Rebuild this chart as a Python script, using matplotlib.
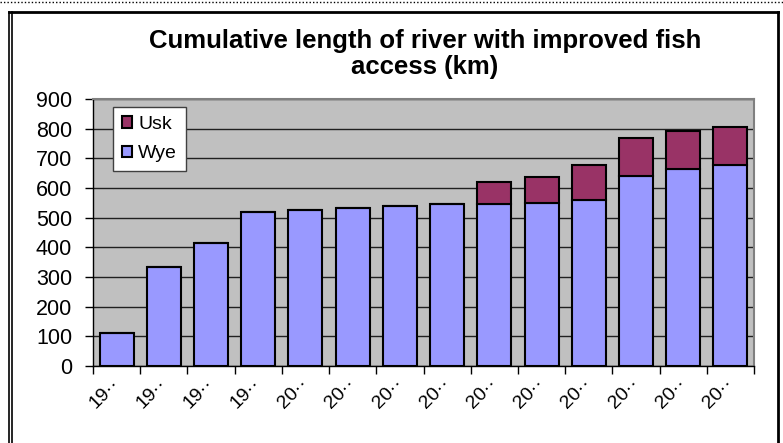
import matplotlib
matplotlib.use("Agg")
import matplotlib.pyplot as plt
from matplotlib.lines import Line2D
import numpy as np

plt.rcParams['font.family'] = ['Liberation Sans', 'DejaVu Sans']

labels = ["19··", "19··", "19··", "19··", "20··", "20··", "20··",
          "20··", "20··", "20··", "20··", "20··", "20··", "20··"]
wye = [111, 334, 416, 519, 525, 532, 539, 545, 546, 548, 559, 639, 664, 679]
usk = [0, 0, 0, 0, 0, 0, 0, 0, 74, 89, 119, 131, 128, 127]

W, H = 783, 443
fig = plt.figure(figsize=(W / 100, H / 100), dpi=100)
fig.patch.set_facecolor("white")

ax = fig.add_axes([93 / W, 1 - 366 / H, (754 - 93) / W, (366 - 99) / H])
ax.set_facecolor("#C0C0C0")

x = np.arange(len(labels))
ax.bar(x, wye, width=0.72, color="#9999FF", edgecolor="black", linewidth=1.5,
       label="Wye", zorder=3)
ax.bar(x, usk, width=0.72, bottom=wye, color="#993366", edgecolor="black",
       linewidth=1.5, label="Usk", zorder=3)

ax.set_xlim(-0.5, len(labels) - 0.5)
ax.set_ylim(0, 900)
ax.set_yticks(range(0, 901, 100))
ax.yaxis.grid(True, color="#202020", linewidth=1.0, zorder=0)
ax.set_axisbelow(True)
ax.tick_params(axis="y", direction="out", length=6, width=1, labelsize=15.5,
               pad=9, colors="black")

ax.set_xticks(x)
ax.set_xticklabels(labels, rotation=45, ha="right", va="center",
                   rotation_mode="anchor", fontsize=14)
ax.tick_params(axis="x", which="major", length=0, pad=11)
ax.set_xticks(np.arange(-0.5, len(labels), 1.0), minor=True)
ax.tick_params(axis="x", which="minor", direction="out", length=6, width=1)

for s in ["top", "right"]:
    ax.spines[s].set_color("#808080")
    ax.spines[s].set_linewidth(1.5)
for s in ["left", "bottom"]:
    ax.spines[s].set_color("black")
    ax.spines[s].set_linewidth(1.0)

handles, lbls = ax.get_legend_handles_labels()
leg = ax.legend(handles[::-1], lbls[::-1], loc="upper left",
                bbox_to_anchor=(0.030, 0.97), borderaxespad=0, fontsize=14,
                frameon=True, fancybox=False, edgecolor="#404040",
                handlelength=0.55, handleheight=0.55, handletextpad=0.3,
                borderpad=0.45, labelspacing=0.65, framealpha=1)
leg.get_frame().set_linewidth(1.0)
leg.set_zorder(5)

fig.text(425 / W, 1 - 41 / H, "Cumulative length of river with improved fish",
         ha="center", va="center", fontsize=18.5, fontweight="bold")
fig.text(425 / W, 1 - 67 / H, "access (km)",
         ha="center", va="center", fontsize=18.5, fontweight="bold")

# outer frame
for xx in (9, 12):
    fig.add_artist(Line2D([xx / W, xx / W], [0, 1 - 12 / H], transform=fig.transFigure,
                          color="black", linewidth=1.2))
fig.add_artist(Line2D([9 / W, 778 / W], [1 - 12 / H, 1 - 12 / H],
                      transform=fig.transFigure, color="black", linewidth=2))
fig.add_artist(Line2D([778 / W, 778 / W], [0, 1 - 12 / H],
                      transform=fig.transFigure, color="black", linewidth=2))
fig.add_artist(Line2D([0, 1], [1 - 1.5 / H, 1 - 1.5 / H], transform=fig.transFigure,
                      color="black", linewidth=1, linestyle=(0, (1, 1.5))))

fig.savefig("out.png", dpi=100)
